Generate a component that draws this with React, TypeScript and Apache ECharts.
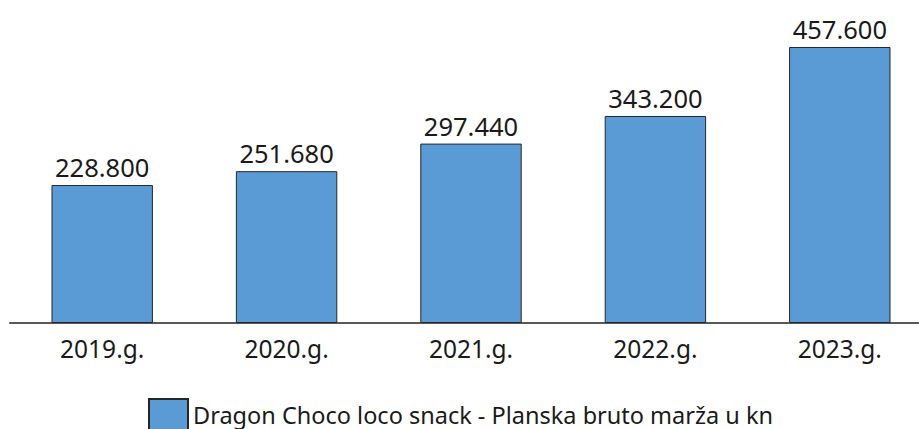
import React, { useEffect, useRef } from "react";
import * as echarts from "echarts";

const categories = ["2019.g.", "2020.g.", "2021.g.", "2022.g.", "2023.g."];
const values = [228800, 251680, 297440, 343200, 457600];
const seriesName = "Dragon Choco loco snack - Planska bruto marža u kn";

function fmt(v: number): string {
  return String(Math.round(v)).replace(/\B(?=(\d{3})+(?!\d))/g, ".");
}

export default function App() {
  const ref = useRef<HTMLDivElement>(null);
  useEffect(() => {
    if (!ref.current) return;
    const chart = echarts.init(ref.current, null, { renderer: "svg" });
    chart.setOption({
      animation: false,
      backgroundColor: "#ffffff",
      textStyle: { fontFamily: "Noto Sans" },
      grid: { left: 10, right: 8, top: 21.4, bottom: 106, containLabel: false },
      xAxis: {
        type: "category",
        data: categories,
        axisLine: { show: true, lineStyle: { color: "#595959", width: 2 } },
        axisTick: { show: false },
        axisLabel: { color: "#1a1a1a", fontSize: 24.5, margin: 13, fontFamily: "Noto Sans" },
      },
      yAxis: {
        type: "value",
        min: 0,
        max: 500000,
        show: false,
        splitLine: { show: false },
      },
      legend: {
        show: true,
        left: 148,
        top: 398,
        padding: 0,
        itemWidth: 39,
        itemHeight: 31,
        itemGap: 10,
        icon: "rect",
        textStyle: {
          color: "#1a1a1a",
          fontSize: 23.5,
          lineHeight: 24,
          fontFamily: "Noto Sans",
        },
        data: [seriesName],
      },
      series: [
        {
          name: seriesName,
          type: "bar",
          data: values,
          barWidth: "55%",
          itemStyle: { color: "#5B9BD5", borderColor: "#262626", borderWidth: 1 },
          label: {
            show: true,
            position: "top",
            distance: 5,
            color: "#1a1a1a",
            fontSize: 25.5,
            fontFamily: "Noto Sans",
            formatter: (p: any) => fmt(p.value),
          },
        },
      ],
    });
    return () => chart.dispose();
  }, []);
  return (
    <div style={{ position: "absolute", left: 0, top: 0, width: 919, height: 429, overflow: "hidden" }}>
      <div ref={ref} style={{ width: 940, height: 429 }} />
    </div>
  );
}
